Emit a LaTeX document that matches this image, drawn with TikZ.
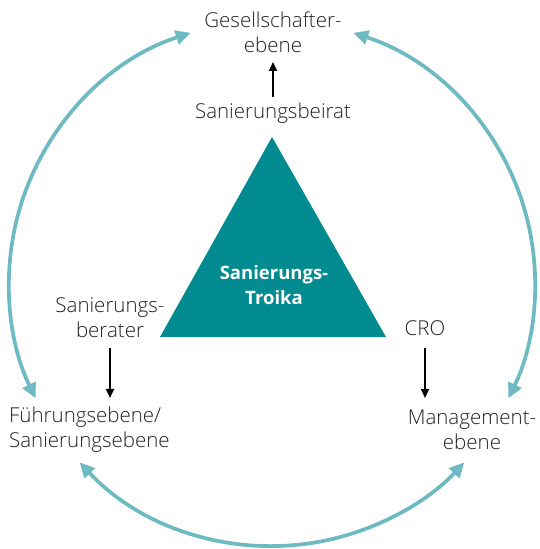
\documentclass[tikz,border=0pt]{standalone}
\usepackage{fontspec}
\setmainfont{Open Sans Light}[BoldFont=Open Sans Bold]
\usetikzlibrary{arrows.meta,calc}
\definecolor{teal1}{HTML}{008B90}
\definecolor{teal2}{HTML}{6DBAC2}
\definecolor{txt}{HTML}{222222}
\begin{document}
\begin{tikzpicture}[x=1pt,y=1pt,
  lbl/.style={text=txt,font=\fontsize{20.5}{25}\selectfont,align=center,inner sep=0pt},
  cyc2/.style={draw=teal2,line width=3.7pt,{Triangle[length=15pt,width=14pt]}-{Triangle[length=15pt,width=14pt]}},
  down/.style={draw=black,line width=1.7pt,-{Triangle[length=9pt,width=8pt]}}]
\useasboundingbox (0,0) rectangle (540,549);
% circle centre and radius of the cycle arcs
\coordinate (c) at (272,266);
% triangle
\coordinate (tA) at (272,412);
\coordinate (tB) at (160,212);
\coordinate (tC) at (386,212);
\fill[teal1] (tA) -- (tB) -- (tC) -- cycle;
\node[lbl,text=white,font=\fontsize{18.5}{25}\selectfont\bfseries] (troika) at (274,264) {Sanierungs-\\Troika};
% labels
\node[lbl] (gesell) at (273,517) {Gesellschafter-\\ebene};
\node[lbl] (beirat) at (273,436) {Sanierungsbeirat};
\node[lbl] (berater) at (110,231) {Sanierungs-\\berater};
\node[lbl] (cro) at (425,221) {CRO};
\node[lbl,align=left,anchor=west] (fuehr) at (9,119) {Führungsebene/\\Sanierungsebene};
\node[lbl] (mgmt) at (472,119) {Management-\\ebene};
% black arrows
\draw[down] (beirat.north |- 0,452) -- (beirat.north |- 0,487);
\draw[down] (berater.south |- 0,201) -- (berater.south |- 0,151);
\draw[down] (cro.south |- 0,201) -- (cro.south |- 0,151);
% cycle arcs
\draw[cyc2] ($(c)+(108:263)$) arc[start angle=108,end angle=206,radius=263];
\draw[cyc2] ($(c)+(72:263)$) arc[start angle=72,end angle=-26,radius=263];
\draw[cyc2] ($(c)+(223:263)$) arc[start angle=223,end angle=317,radius=263];
\end{tikzpicture}
\end{document}
